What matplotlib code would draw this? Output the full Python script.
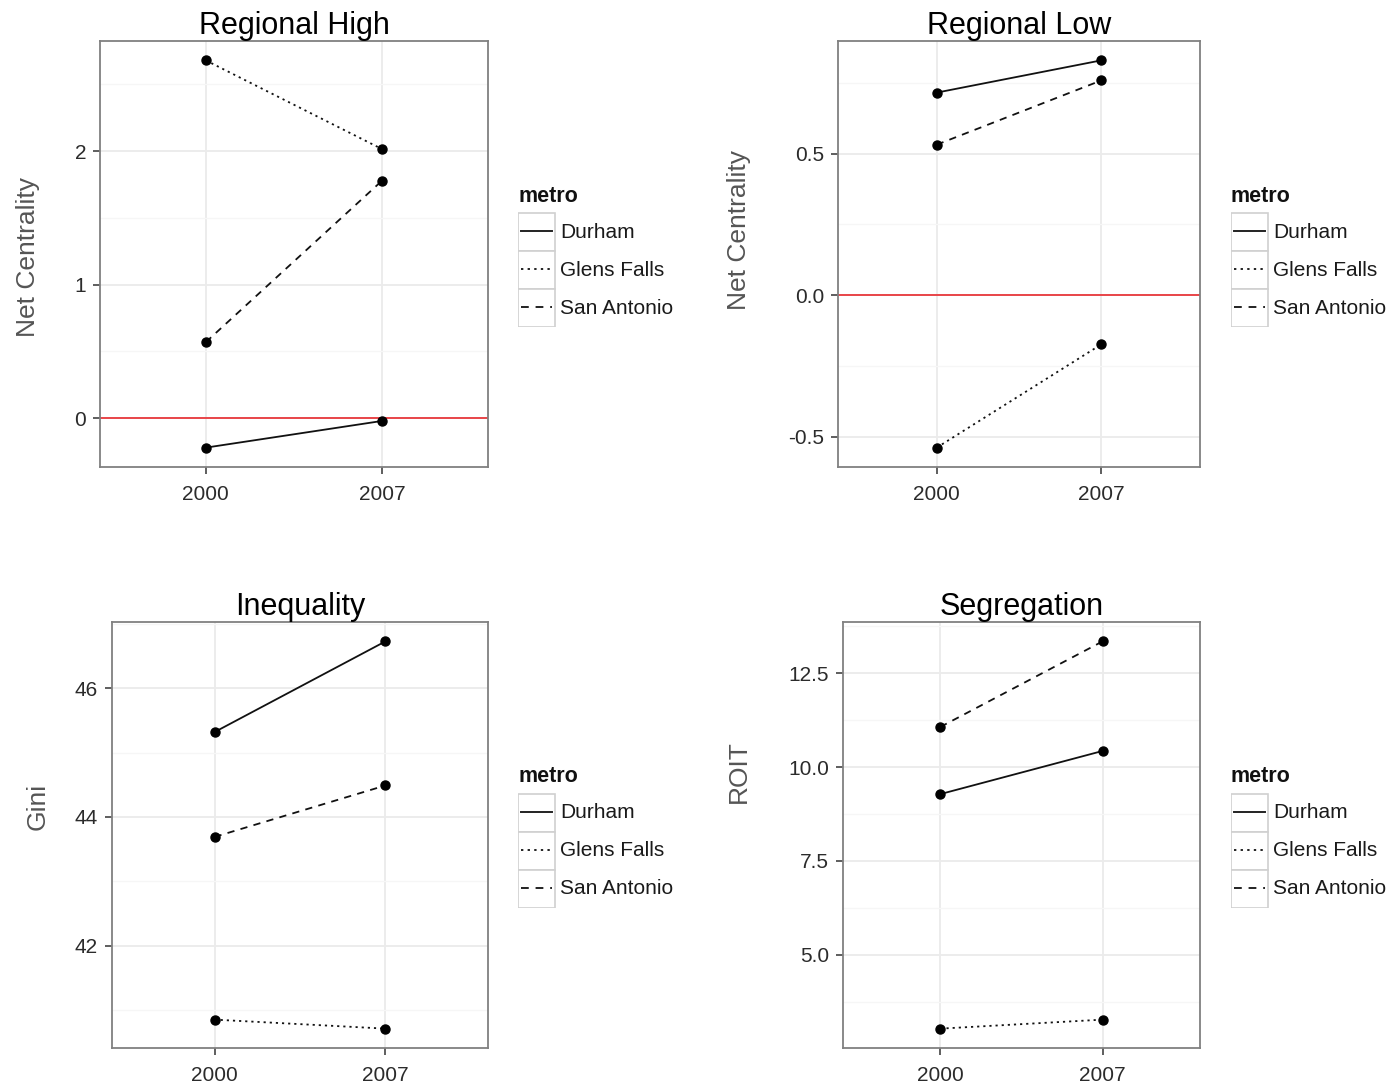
import matplotlib
matplotlib.use("Agg")
import matplotlib.pyplot as plt
from matplotlib.patches import Rectangle
from matplotlib.ticker import FixedLocator, FormatStrFormatter

plt.rcParams['font.family'] = ['Liberation Sans', 'DejaVu Sans']
plt.rcParams['axes.unicode_minus'] = False

W, H = 1391, 1086

years = ['2000', '2007']
metros = ['Durham', 'Glens Falls', 'San Antonio']

# values, one list per metro (2000, 2007)
high_durham = [-0.22, -0.02]
high_glens = [2.68, 2.015]
high_sanantonio = [0.57, 1.78]

low_durham = [0.716, 0.83]
low_glens = [-0.539, -0.174]
low_sanantonio = [0.532, 0.759]

gini_durham = [45.32, 46.73]
gini_glens = [40.85, 40.71]
gini_sanantonio = [43.69, 44.49]

roit_durham = [9.28, 10.43]
roit_glens = [3.03, 3.27]
roit_sanantonio = [11.07, 13.35]

styles = {
    'Durham': '-',
    'Glens Falls': (0, (1.2, 2.2)),
    'San Antonio': (0, (4, 3.5)),
}

panels = [
    # title, ylabel, series, yticks, fmt, hline, axes px box, ylabel coords, legend px
    ('Regional High', 'Net Centrality', [high_durham, high_glens, high_sanantonio],
     [0, 1, 2], '%d', True, (100, 41, 488, 467), (-0.155, 0.493), (518, 183)),
    ('Regional Low', 'Net Centrality', [low_durham, low_glens, low_sanantonio],
     [-0.5, 0.0, 0.5], '%.1f', True, (838, 41, 1200, 467), (-0.240, 0.556), (1231, 183)),
    ('Inequality', 'Gini', [gini_durham, gini_glens, gini_sanantonio],
     [42, 44, 46], '%d', False, (112, 622, 488, 1048), (-0.165, 0.568), (518, 764)),
    ('Segregation', 'ROIT', [roit_durham, roit_glens, roit_sanantonio],
     [5.0, 7.5, 10.0, 12.5], '%.1f', False, (843, 622, 1200, 1048), (-0.258, 0.648), (1231, 764)),
]


def draw_legend(fig, x0, y0):
    key = 38
    top = 30
    lax = fig.add_axes([x0 / W, 1 - (y0 + top + 3 * key) / H, 170 / W, (top + 3 * key) / H])
    lax.set_xlim(0, 170)
    lax.set_ylim(top + 3 * key, 0)
    lax.axis('off')
    lax.text(0, 13, 'metro', fontsize=15.5, fontweight='bold', color='#111111', va='center', ha='left')
    for i, m in enumerate(metros):
        yc = top + i * key + key / 2
        lax.add_patch(Rectangle((0, top + i * key), 37, key, fc='white', ec='#d0d0d0', lw=1.2))
        lax.plot([3, 34], [yc - 1, yc - 1], color='#222222', lw=1.4, linestyle=styles[m])
        lax.text(42, yc, m, fontsize=15, color='#1a1a1a', va='center', ha='left')


fig = plt.figure(figsize=(W / 100, H / 100), dpi=100)

for title, ylabel, series, yticks, fmt, hline, box, ylc, leg in panels:
    x1, y1, x2, y2 = box
    ax = fig.add_axes([x1 / W, 1 - y2 / H, (x2 - x1) / W, (y2 - y1) / H])
    xs = list(range(len(years)))
    for m, vals in zip(metros, series):
        ax.plot(xs, vals, color='#111111', lw=1.3, linestyle=styles[m], zorder=3)
        ax.plot(xs, vals, 'o', color='black', ms=6.5, zorder=4)
    if hline:
        ax.axhline(0, color='#e8383b', lw=1.3, zorder=2)

    allv = [v for s in series for v in s]
    lo, hi = min(allv), max(allv)
    pad = (hi - lo) * 0.05
    ax.set_ylim(lo - pad, hi + pad)
    ax.set_xlim(-0.6, len(years) - 0.4)

    ax.set_xticks(xs)
    ax.set_xticklabels(years)
    ax.yaxis.set_major_locator(FixedLocator(yticks))
    ax.yaxis.set_major_formatter(FormatStrFormatter(fmt))
    step = yticks[1] - yticks[0]
    minors = [yticks[0] - step / 2 + k * step for k in range(len(yticks) + 2)]
    ax.yaxis.set_minor_locator(FixedLocator(minors))

    ax.grid(True, which='major', color='#ebebeb', lw=1.3, zorder=0)
    ax.grid(True, which='minor', axis='y', color='#f6f6f6', lw=1.0, zorder=0)
    ax.set_axisbelow(True)

    ax.tick_params(axis='both', which='major', length=5, width=1.1, color='#333333',
                   labelsize=15, labelcolor='#2b2b2b')
    ax.tick_params(axis='x', which='major', pad=8)
    ax.tick_params(axis='y', which='major', pad=5)
    ax.tick_params(axis='y', which='minor', length=0)
    for sp in ax.spines.values():
        sp.set_color('#808080')
        sp.set_linewidth(1.3)

    ax.set_title(title, fontsize=22, color='black', pad=1)
    ax.set_ylabel(ylabel, fontsize=19, color='#555555')
    ax.yaxis.set_label_coords(*ylc)

    draw_legend(fig, *leg)

fig.savefig('out.png', dpi=100)
